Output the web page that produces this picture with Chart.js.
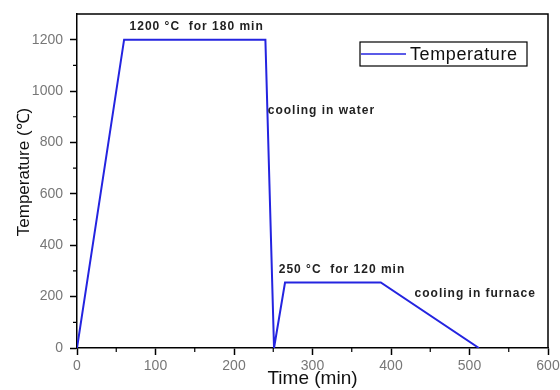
<!DOCTYPE html>
<html>
<head>
<meta charset="utf-8">
<script src="https://cdn.jsdelivr.net/npm/chart.js@4/dist/chart.umd.min.js"></script>
<style>
html,body{margin:0;padding:0;background:#fff;}
#wrap{width:560px;height:390px;position:relative;}
</style>
</head>
<body>
<div id="wrap"><canvas id="c" width="560" height="390"></canvas></div>
<script>
// Data
const timeMin = [0, 60, 240, 251, 265, 387, 512];
const temperatureC = [0, 1200, 1200, 0, 255, 255, 0];
const seriesLabel = "Temperature";
const yTicks = [0, 200, 400, 600, 800, 1000, 1200];
const xTicks = [0, 100, 200, 300, 400, 500, 600];
const noteTexts = ["1200 °C  for 180 min", "cooling in water", "250 °C  for 120 min", "cooling in furnace"];
const noteX = [67, 243, 257, 430];
const noteY = [1250, 925, 303, 213];
const yTitle = "Temperature (℃)";
const xTitle = "Time (min)";

const LINE_COLOR = "#2424e0";
const FONT = "'Liberation Sans', Arial, sans-serif";

const framePlugin = {
  id: "frame",
  afterDraw(chart) {
    const {ctx, chartArea: a, scales} = chart;
    ctx.save();
    // top and right frame
    ctx.strokeStyle = "#000";
    ctx.lineWidth = 1.5;
    ctx.beginPath();
    ctx.moveTo(a.left, a.top);
    ctx.lineTo(a.right, a.top);
    ctx.lineTo(a.right, a.bottom);
    ctx.stroke();
    // minor ticks
    ctx.lineWidth = 1.2;
    ctx.beginPath();
    for (let i = 0; i < yTicks.length - 1; i++) {
      const v = (yTicks[i] + yTicks[i + 1]) / 2;
      const py = scales.y.getPixelForValue(v);
      ctx.moveTo(a.left, py);
      ctx.lineTo(a.left - 4, py);
    }
    for (let i = 0; i < xTicks.length - 1; i++) {
      const v = (xTicks[i] + xTicks[i + 1]) / 2;
      const px = scales.x.getPixelForValue(v);
      ctx.moveTo(px, a.bottom);
      ctx.lineTo(px, a.bottom + 4);
    }
    ctx.stroke();
    // y title
    ctx.save();
    ctx.translate(24, 172);
    ctx.rotate(-Math.PI / 2);
    ctx.fillStyle = "#111";
    ctx.font = "17px " + FONT;
    ctx.textAlign = "center";
    ctx.textBaseline = "middle";
    ctx.fillText(yTitle, 0, 0);
    ctx.restore();
    // annotations
    ctx.fillStyle = "#222";
    ctx.font = "bold 12px " + FONT;
    ctx.letterSpacing = "1px";
    ctx.textBaseline = "middle";
    ctx.textAlign = "left";
    for (let i = 0; i < noteTexts.length; i++) {
      ctx.fillText(noteTexts[i], scales.x.getPixelForValue(noteX[i]), scales.y.getPixelForValue(noteY[i]));
    }
    // legend box
    const lx = 360, ly = 42, lw = 167, lh = 24;
    ctx.fillStyle = "#fff";
    ctx.fillRect(lx, ly, lw, lh);
    ctx.strokeStyle = "#000";
    ctx.lineWidth = 1.2;
    ctx.strokeRect(lx, ly, lw, lh);
    ctx.strokeStyle = LINE_COLOR;
    ctx.lineWidth = 1.5;
    ctx.beginPath();
    ctx.moveTo(lx + 1, ly + lh / 2);
    ctx.lineTo(lx + 46, ly + lh / 2);
    ctx.stroke();
    ctx.fillStyle = "#111";
    ctx.font = "18px " + FONT;
    ctx.letterSpacing = "0.6px";
    ctx.fillText(chart.data.datasets[0].label, lx + 50, ly + lh / 2 + 1);
    ctx.restore();
  }
};

new Chart(document.getElementById("c"), {
  type: "line",
  data: {
    datasets: [{
      label: seriesLabel,
      data: timeMin.map((t, i) => ({x: t, y: temperatureC[i]})),
      borderColor: LINE_COLOR,
      borderWidth: 2,
      pointRadius: 0,
      fill: false,
      tension: 0
    }]
  },
  options: {
    responsive: false,
    animation: false,
    devicePixelRatio: 1,
    layout: {padding: {top: 14, right: 12, left: 0, bottom: 0}},
    plugins: {legend: {display: false}, tooltip: {enabled: false}},
    scales: {
      x: {
        type: "linear",
        min: 0, max: 600,
        afterBuildTicks(s) { s.ticks = xTicks.map(v => ({value: v})); },
        afterFit(s) { s.height = 42; s.paddingLeft = 0; s.paddingRight = 0; },
        grid: {drawOnChartArea: false, drawTicks: true, tickLength: 7, tickColor: "#000", tickWidth: 1.5},
        border: {display: true, color: "#000", width: 1.5},
        ticks: {color: "#777", font: {family: FONT, size: 14}, padding: 3, maxRotation: 0, callback: v => String(v)},
        title: {display: true, text: xTitle, color: "#111", font: {family: FONT, size: 19}, padding: {top: 0, bottom: 0}}
      },
      y: {
        type: "linear",
        min: 0, max: 1300,
        afterBuildTicks(s) { s.ticks = yTicks.map(v => ({value: v})); },
        afterFit(s) { s.width = 77; s.paddingTop = 0; s.paddingBottom = 0; },
        grid: {drawOnChartArea: false, drawTicks: true, tickLength: 7, tickColor: "#000", tickWidth: 1.5},
        border: {display: true, color: "#000", width: 1.5},
        ticks: {color: "#777", font: {family: FONT, size: 14}, padding: 7, callback: v => String(v)},
        title: {display: false}
      }
    }
  },
  plugins: [framePlugin]
});
</script>
</body>
</html>
